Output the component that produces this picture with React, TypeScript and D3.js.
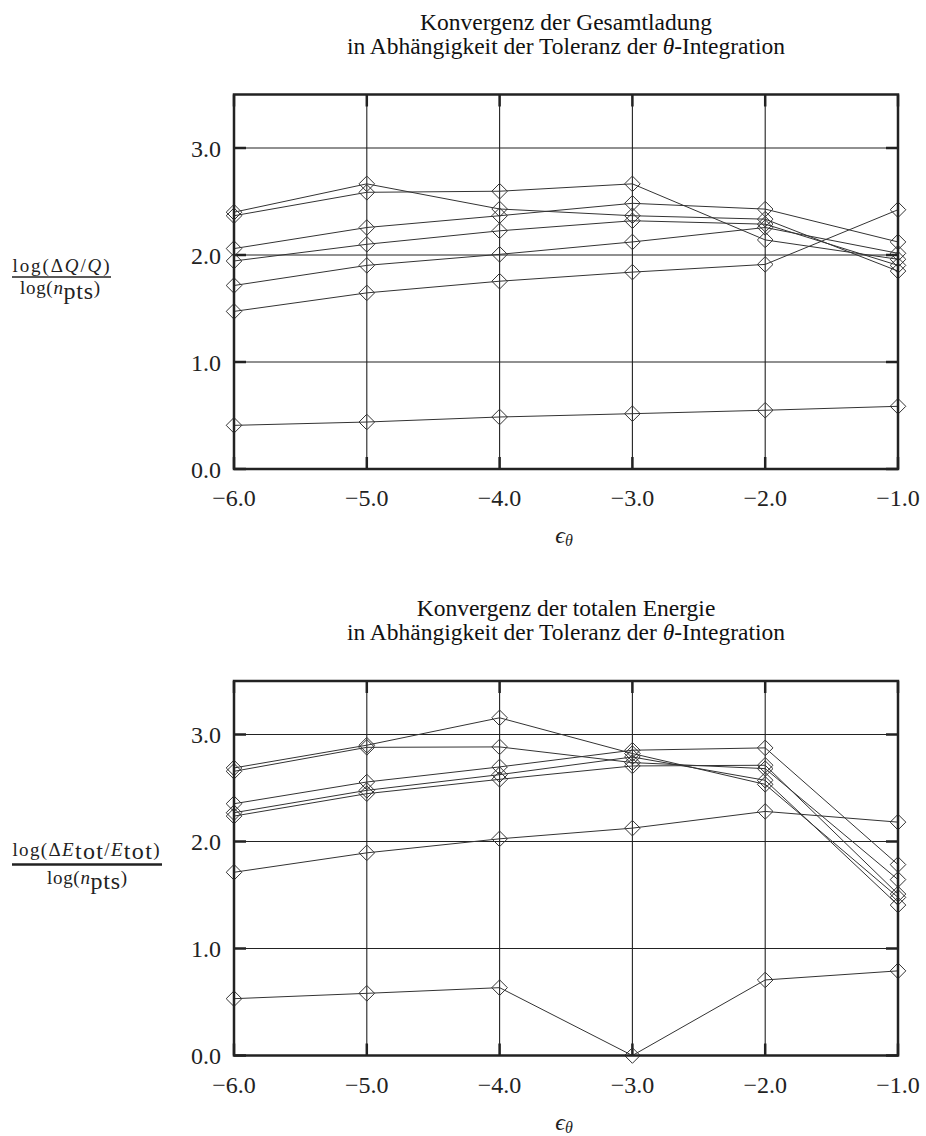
import React from 'react';
import * as d3 from 'd3';

// ---------- data ----------
const epsilonTheta = [-6, -5, -4, -3, -2, -1];
const xTickLabels = ['−6.0', '−5.0', '−4.0', '−3.0', '−2.0', '−1.0'];
const yTicks = [0, 1, 2, 3];
const yTickLabels = ['0.0', '1.0', '2.0', '3.0'];

// Konvergenz der Gesamtladung
const chargeA = [2.40, 2.665, 2.43, 2.367, 2.335, 1.85];
const chargeB = [2.367, 2.586, 2.596, 2.665, 2.141, 1.96];
const chargeC = [2.06, 2.257, 2.367, 2.483, 2.429, 2.122];
const chargeD = [1.944, 2.10, 2.226, 2.32, 2.288, 1.903];
const chargeE = [1.715, 1.903, 2.006, 2.122, 2.257, 2.016];
const chargeF = [1.473, 1.646, 1.755, 1.84, 1.912, 2.423];
const chargeG = [0.408, 0.439, 0.486, 0.517, 0.549, 0.586];

// Konvergenz der totalen Energie
const energyA = [2.6875, 2.90, 3.156, 2.822, 2.534, 1.478];
const energyB = [2.656, 2.88, 2.884, 2.7375, 2.681, 1.644];
const energyC = [2.353, 2.556, 2.697, 2.853, 2.875, 1.784];
const energyD = [2.269, 2.478, 2.625, 2.79, 2.572, 1.406];
const energyE = [2.2375, 2.447, 2.581, 2.706, 2.7125, 1.509];
const energyF = [1.7125, 1.894, 2.025, 2.125, 2.281, 2.181];
const energyG = [0.531, 0.581, 0.634, 0.0, 0.706, 0.791];

const chargeSeries = [chargeA, chargeB, chargeC, chargeD, chargeE, chargeF, chargeG];
const energySeries = [energyA, energyB, energyC, energyD, energyE, energyF, energyG];

// ---------- layout ----------
const W = 926;
const H = 1136;
const PLOT_LEFT = 234;
const PLOT_RIGHT = 898;
const FONT = "'Liberation Serif', 'Times New Roman', 'DejaVu Serif', serif";
const INK = '#222';

const x = d3.scaleLinear().domain([-6, -1]).range([PLOT_LEFT, PLOT_RIGHT]);

type PanelProps = {
  top: number;
  bottom: number;
  series: number[][];
  title1: string;
};

function Panel({ top, bottom, series, title1 }: PanelProps) {
  const y = d3.scaleLinear().domain([0, 3.5]).range([bottom, top]);
  const line = d3
    .line<number>()
    .x((_, i) => x(epsilonTheta[i]))
    .y((d) => y(d));
  const r = 7.8;
  const diamond = (cx: number, cy: number) =>
    `M${cx},${cy - r}L${cx + r},${cy}L${cx},${cy + r}L${cx - r},${cy}Z`;
  const tickLen = 12;
  const cx = (PLOT_LEFT + PLOT_RIGHT) / 2;

  return (
    <g>
      {/* title */}
      <text x={cx} y={top - 65} textAnchor="middle" fontFamily={FONT} fontSize={23.5} fill="#111">
        {title1}
      </text>
      <text x={cx} y={top - 41} textAnchor="middle" fontFamily={FONT} fontSize={23.5} fill="#111">
        in Abhängigkeit der Toleranz der <tspan fontStyle="italic">θ</tspan>-Integration
      </text>

      {/* grid */}
      {epsilonTheta.slice(1, -1).map((v) => (
        <line key={'gx' + v} x1={x(v)} x2={x(v)} y1={top} y2={bottom} stroke={INK} strokeWidth={1.1} />
      ))}
      {yTicks.slice(1).map((v) => (
        <line key={'gy' + v} x1={PLOT_LEFT} x2={PLOT_RIGHT} y1={y(v)} y2={y(v)} stroke={INK} strokeWidth={1.1} />
      ))}

      {/* tick marks (inward, on all sides) */}
      {epsilonTheta.map((v) => (
        <g key={'tx' + v}>
          <line x1={x(v)} x2={x(v)} y1={bottom} y2={bottom - tickLen} stroke={INK} strokeWidth={2.5} />
          <line x1={x(v)} x2={x(v)} y1={top} y2={top + tickLen} stroke={INK} strokeWidth={2.5} />
        </g>
      ))}
      {yTicks.map((v) => (
        <g key={'ty' + v}>
          <line x1={PLOT_LEFT} x2={PLOT_LEFT + tickLen} y1={y(v)} y2={y(v)} stroke={INK} strokeWidth={2.5} />
          <line x1={PLOT_RIGHT} x2={PLOT_RIGHT - tickLen} y1={y(v)} y2={y(v)} stroke={INK} strokeWidth={2.5} />
        </g>
      ))}

      {/* series */}
      {series.map((s, si) => (
        <g key={'s' + si}>
          <path d={line(s) || ''} fill="none" stroke="#333" strokeWidth={1} />
          {s.map((v, i) => (
            <path key={i} d={diamond(x(epsilonTheta[i]), y(v))} fill="none" stroke="#333" strokeWidth={1} />
          ))}
        </g>
      ))}

      {/* frame */}
      <rect x={PLOT_LEFT} y={top} width={PLOT_RIGHT - PLOT_LEFT} height={bottom - top} fill="none" stroke={INK} strokeWidth={2.5} />

      {/* tick labels */}
      {epsilonTheta.map((v, i) => (
        <text key={'lx' + v} x={x(v)} y={bottom + 37} textAnchor="middle" fontFamily={FONT} fontSize={24} fill="#222">
          {xTickLabels[i]}
        </text>
      ))}
      {yTicks.map((v, i) => (
        <text key={'ly' + v} x={221} y={y(v) + 8.5} textAnchor="end" fontFamily={FONT} fontSize={24} fill="#222">
          {yTickLabels[i]}
        </text>
      ))}

      {/* x axis label */}
      <text x={564} y={bottom + 74} textAnchor="middle" fontFamily={FONT} fontSize={24} fill="#222">
        <tspan fontStyle="italic">ϵ</tspan>
        <tspan fontStyle="italic" fontSize={16} dy={3}>θ</tspan>
      </text>
    </g>
  );
}

export default function App() {
  const topA = 94.5;
  const botA = 469;
  const topB = 681;
  const botB = 1055.5;
  const yA2 = botA - (2 / 3.5) * (botA - topA);
  const yB2 = botB - (2 / 3.5) * (botB - topB);
  return (
    <svg
      width={W}
      height={H}
      viewBox={`0 0 ${W} ${H}`}
      style={{ position: 'absolute', left: 0, top: 0, background: '#fff' }}
    >
      <rect x={0} y={0} width={W} height={H} fill="#fff" />
      <Panel top={topA} bottom={botA} series={chargeSeries} title1="Konvergenz der Gesamtladung" />
      <Panel top={topB} bottom={botB} series={energySeries} title1="Konvergenz der totalen Energie" />

      {/* y label, top panel */}
      <text x={61} y={yA2 + 17} textAnchor="middle" fontFamily={FONT} fontSize={19} fill="#222"
        textLength={97} lengthAdjust="spacing">
        log(Δ<tspan fontStyle="italic">Q</tspan>/<tspan fontStyle="italic">Q</tspan>)
      </text>
      <line x1={12} x2={111} y1={yA2 + 22} y2={yA2 + 22} stroke="#222" strokeWidth={1.6} />
      <text x={60} y={yA2 + 39} textAnchor="middle" fontFamily={FONT} fontSize={19} fill="#222"
        textLength={80} lengthAdjust="spacing">
        log(<tspan fontStyle="italic">n</tspan>
        <tspan fontSize={24} dy={5}>pts</tspan>
        <tspan dy={-5}>)</tspan>
      </text>

      {/* y label, bottom panel */}
      <text x={86} y={yB2 + 14} textAnchor="middle" fontFamily={FONT} fontSize={19} fill="#222"
        textLength={147} lengthAdjust="spacing">
        log(Δ<tspan fontStyle="italic">E</tspan>
        <tspan fontSize={24} dy={3}>tot</tspan>
        <tspan dy={-3}>/</tspan>
        <tspan fontStyle="italic">E</tspan>
        <tspan fontSize={24} dy={3}>tot</tspan>
        <tspan dy={-3}>)</tspan>
      </text>
      <line x1={12} x2={162} y1={yB2 + 23} y2={yB2 + 23} stroke="#222" strokeWidth={2.7} />
      <text x={87} y={yB2 + 42} textAnchor="middle" fontFamily={FONT} fontSize={19} fill="#222"
        textLength={80} lengthAdjust="spacing">
        log(<tspan fontStyle="italic">n</tspan>
        <tspan fontSize={24} dy={5}>pts</tspan>
        <tspan dy={-5}>)</tspan>
      </text>
    </svg>
  );
}
